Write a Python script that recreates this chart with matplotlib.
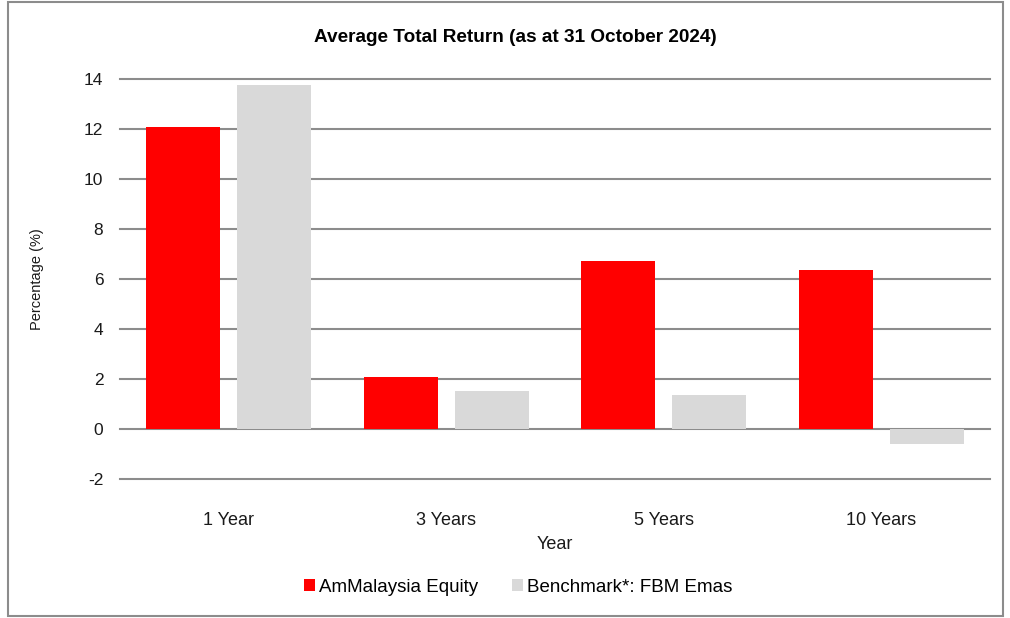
#!/usr/bin/env python3

import numpy as np
import matplotlib
matplotlib.use("Agg")
import matplotlib.pyplot as plt
from matplotlib.patches import Rectangle

categories = ["1 Year", "3 Years", "5 Years", "10 Years"]
fund = [12.08, 2.08, 6.72, 6.36]
benchmark = [13.76, 1.52, 1.36, -0.60]
series_names = ["AmMalaysia Equity", "Benchmark*: FBM Emas"]
yticks = [-2, 0, 2, 4, 6, 8, 10, 12, 14]


def main():
    plt.rcParams["font.family"] = ["Liberation Sans", "DejaVu Sans"]
    fig = plt.figure(figsize=(10.1, 6.18), dpi=100)
    ax = fig.add_axes([0.1188, 0.2249, 0.8614, 0.6473])

    x = np.arange(len(categories))
    w = 0.34
    ax.bar(x - 0.21, fund, w, color="#ff0000", label=series_names[0], zorder=3)
    ax.bar(x + 0.21, benchmark, w, color="#d9d9d9", label=series_names[1], zorder=3)

    ax.set_xlim(-0.5, len(categories) - 0.5)
    ax.set_ylim(-2, 14)
    ax.set_yticks(yticks)
    ax.set_yticklabels([str(t) for t in yticks])
    ax.set_xticks(x)
    ax.set_xticklabels(categories)
    ax.tick_params(axis="both", length=0, colors="#1a1a1a")
    ax.tick_params(axis="x", pad=24, labelsize=13)
    ax.tick_params(axis="y", pad=12, labelsize=12.5)
    ax.grid(axis="y", color="#8c8c8c", linewidth=1.5, zorder=0)
    for gl in ax.yaxis.get_gridlines():
        gl.set_clip_on(False)
    for s in ax.spines.values():
        s.set_visible(False)

    ax.set_xlabel("Year", fontsize=13, color="#1a1a1a")
    ax.xaxis.set_label_coords(0.5, -0.1425)
    ax.set_ylabel("Percentage (%)", fontsize=10.5, color="#1a1a1a")
    ax.yaxis.set_label_coords(-0.0875, 0.5)
    fig.text(0.51, 1 - 37 / 618, "Average Total Return (as at 31 October 2024)",
             fontsize=13.7, fontweight="bold", ha="center", va="center")

    fig.legend(loc="center", bbox_to_anchor=(0.513, 0.050), ncol=2, frameon=False,
               handlelength=0.6, handleheight=0.6, handletextpad=0.2,
               columnspacing=1.8, fontsize=13.5)

    fig.patches.append(Rectangle((8 / 1010, 2 / 618), 995 / 1010, 614 / 618,
                                 transform=fig.transFigure, fill=False,
                                 edgecolor="#8c8c8c", linewidth=1.5))

    fig.savefig("out.png", dpi=100)


if __name__ == "__main__":
    main()
